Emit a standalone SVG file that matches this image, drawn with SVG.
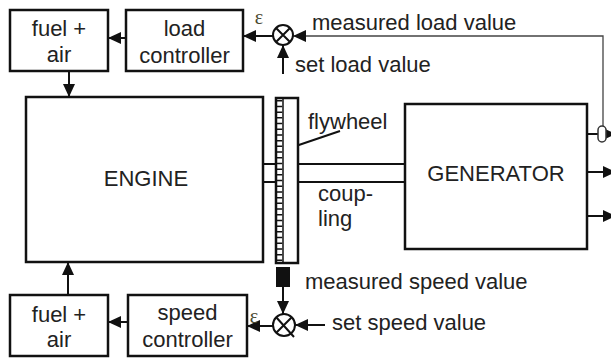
<svg xmlns="http://www.w3.org/2000/svg" width="611" height="358" viewBox="0 0 611 358">
<defs>
<marker id="ah" markerUnits="userSpaceOnUse" markerWidth="13" markerHeight="12" refX="13" refY="6" orient="auto"><path d="M0,0 L13,6 L0,12 z" fill="#111"/></marker>
</defs>
<style>
.box{fill:#fff;stroke:#111;stroke-width:2.5}
.t{font-family:"Liberation Sans",Arial,sans-serif;font-size:22px;fill:#222}
.c{text-anchor:middle}
.ln{stroke:#111;stroke-width:2;fill:none}
.ar{stroke:#111;stroke-width:2;fill:none;marker-end:url(#ah)}
.fb{stroke:#444;stroke-width:1.3;fill:none;marker-end:url(#ah)}
.sum{fill:#fff;stroke:#111;stroke-width:2}
.eps{font-family:"Liberation Serif",serif;font-size:20px;fill:#4a4a30;text-anchor:middle}
</style>
<rect width="611" height="358" fill="#fff"/>

<g id="connectors">
<path class="ar" d="M126,38 H108"/>
<path class="ar" d="M273,36 H243"/>
<path class="ar" d="M69,71 V97"/>
<path class="ar" d="M283,74 V45"/>
<path class="fb" d="M603,126 V36 H293"/>
<path class="ln" d="M587,134 H598"/>
<path class="ar" d="M606,134 H616"/>
<path class="ar" d="M587,172 H616"/>
<path class="ar" d="M587,216 H616"/>
<path class="ln" d="M263,164 H276 M263,182 H276 M298,164 H405 M298,182 H405"/>
<path class="ln" stroke-width="1.5" d="M290,148 L340,131"/>
<path class="ar" d="M68,295 V262"/>
<path class="ar" d="M128,322 H108"/>
<path class="ar" d="M273,326 H247"/>
<path class="ar" d="M283,287 V314"/>
<path class="ar" d="M325,325 H295"/>
</g>

<g id="fuel-air-top">
<rect class="box" x="10" y="10" width="98" height="61"/>
<text class="t c" x="59" y="36">fuel +</text>
<text class="t c" x="59" y="62">air</text>
</g>
<g id="load-controller">
<rect class="box" x="126" y="10" width="117" height="61"/>
<text class="t c" x="184.5" y="36">load</text>
<text class="t c" x="184.5" y="63">controller</text>
</g>
<g id="sum-load">
<circle class="sum" cx="283" cy="35" r="10"/>
<path class="ln" d="M276,28 L290,42 M290,28 L276,42"/>
<text class="eps" x="259" y="24">ε</text>
</g>
<g id="engine">
<rect class="box" x="26" y="97" width="237" height="165"/>
<text class="t c" x="146" y="186">ENGINE</text>
</g>
<g id="flywheel">
<rect class="box" x="276" y="98" width="22" height="165"/>
<line x1="283" y1="98" x2="283" y2="263" stroke="#111" stroke-width="1.5"/>
<line x1="279.5" y1="100" x2="279.5" y2="262" stroke="#111" stroke-width="5.5" stroke-dasharray="1.5 4.2"/>
</g>
<g id="generator">
<rect class="box" x="405" y="104" width="182" height="145"/>
<text class="t c" x="496" y="181">GENERATOR</text>
</g>
<g id="load-sensor">
<rect x="598" y="126" width="8" height="16" rx="4" fill="#fff" stroke="#333" stroke-width="1.5"/>
</g>
<g id="fuel-air-bottom">
<rect class="box" x="10" y="295" width="98" height="61"/>
<text class="t c" x="59" y="322">fuel +</text>
<text class="t c" x="59" y="347">air</text>
</g>
<g id="speed-controller">
<rect class="box" x="128" y="295" width="119" height="61"/>
<text class="t c" x="187.5" y="320">speed</text>
<text class="t c" x="187.5" y="347">controller</text>
</g>
<g id="speed-sensor">
<rect x="276" y="267" width="14" height="20" fill="#111"/>
</g>
<g id="sum-speed">
<circle class="sum" cx="284" cy="325" r="11"/>
<path class="ln" d="M276,317 L294,337 M292,317 L276,333"/>
<text class="eps" x="254" y="323">ε</text>
</g>

<g id="labels">
<text class="t" x="312" y="30">measured load value</text>
<text class="t" x="295" y="72">set load value</text>
<text class="t" x="308" y="129">flywheel</text>
<text class="t" x="318" y="201">coup-</text>
<text class="t" x="318" y="226">ling</text>
<text class="t" x="305" y="289">measured speed value</text>
<text class="t" x="332" y="330">set speed value</text>
</g>
</svg>
